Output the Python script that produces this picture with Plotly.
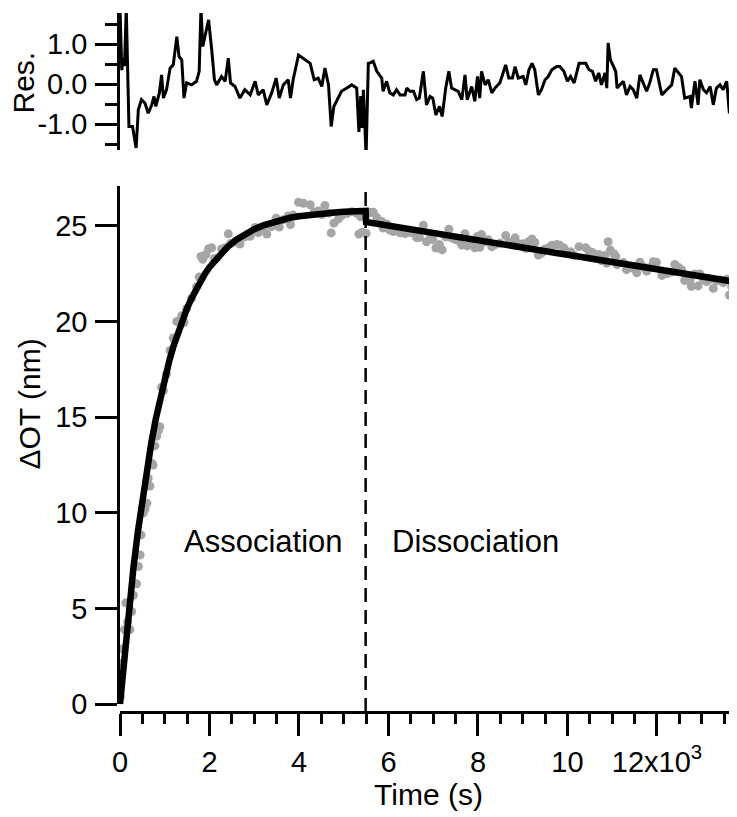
import plotly.graph_objects as go

# ---------------- data (time in units of 10^3 s) ----------------
res_t = [
    0.00, 0.04, 0.07, 0.10, 0.14, 0.20, 0.28, 0.36, 0.41, 0.48, 0.56, 0.63, 0.71, 0.76, 0.80, 0.88, 0.93, 0.97,
    1.04, 1.12, 1.19, 1.27, 1.32, 1.38, 1.43, 1.49, 1.60, 1.71, 1.77, 1.81, 1.85, 1.92, 1.98,
    2.05, 2.11, 2.16, 2.27, 2.35, 2.42, 2.47, 2.57, 2.68, 2.79, 2.91,
    3.02, 3.09, 3.20, 3.28, 3.39, 3.49, 3.56, 3.65, 3.76, 3.81, 3.87, 3.99,
    4.10, 4.25, 4.34, 4.43, 4.51, 4.58, 4.66, 4.72, 4.78, 4.88, 4.95,
    5.07, 5.18, 5.29, 5.34, 5.38, 5.41, 5.44, 5.50, 5.55, 5.59, 5.66, 5.74, 5.85, 5.88, 5.96,
    6.03, 6.11, 6.18, 6.26, 6.37, 6.41, 6.48, 6.56, 6.63, 6.69, 6.78, 6.85, 6.93, 6.99,
    7.06, 7.14, 7.20, 7.28, 7.35, 7.41, 7.49, 7.56, 7.64, 7.71, 7.76, 7.86, 7.93, 7.99,
    8.04, 8.08, 8.16, 8.23, 8.31, 8.38, 8.49, 8.62, 8.69, 8.77, 8.83, 8.90,
    9.01, 9.07, 9.14, 9.21, 9.27, 9.35, 9.42, 9.50, 9.57, 9.65, 9.76, 9.83, 9.92,
    10.00, 10.07, 10.15, 10.26, 10.41, 10.48, 10.56, 10.63, 10.70, 10.76, 10.84, 10.88, 10.91, 10.96,
    11.04, 11.08, 11.11, 11.25, 11.32, 11.40, 11.47, 11.55, 11.62, 11.69, 11.77, 11.84, 11.92, 11.99,
    12.11, 12.22, 12.33, 12.40, 12.48, 12.55, 12.62, 12.74, 12.77, 12.85, 12.92, 12.96,
    13.04, 13.11, 13.19, 13.26, 13.33, 13.41, 13.48, 13.56, 13.62, 13.67, 13.75,
]
res_v = [
    1.90, 0.35, 0.65, 0.45, 1.90, -1.06, -1.06, -1.60, -0.64, -0.39, -0.48, -0.73, -0.52, -0.31, -0.56, -0.22, 0.23, -0.35,
    -0.14, 0.40, 0.48, 1.19, 0.69, 0.61, -0.35, 0.03, -0.02, 0.07, 0.32, 1.90, 0.94, 1.28, 1.61,
    0.86, 0.11, -0.02, 0.19, 0.07, 0.65, 0.03, -0.06, -0.35, -0.14, -0.27,
    0.07, -0.27, -0.14, -0.52, -0.22, 0.15, -0.35, -0.02, 0.11, -0.35, 0.11, 0.73,
    0.65, 0.52, 0.11, 0.15, -0.06, 0.40, -0.02, -1.06, -0.56, -0.35, -0.18,
    -0.10, -0.02, -0.10, -1.20, -0.30, -1.10, -0.14, -1.80, 0.52, 0.53, 0.57, 0.32, 0.15, -0.18, 0.07,
    -0.22, -0.27, -0.14, -0.27, -0.27, -0.10, -0.18, -0.18, -0.39, -0.35, 0.32, -0.52, -0.31, -0.35,
    -0.77, -0.56, -0.81, -0.10, 0.32, -0.10, -0.14, -0.18, -0.39, 0.23, -0.39, -0.06, -0.43, 0.19,
    -0.35, 0.32, -0.02, 0.11, -0.22, -0.10, 0.03, 0.48, 0.15, 0.15, 0.44, 0.15,
    0.19, -0.02, 0.36, 0.52, 0.36, -0.27, -0.14, 0.11, 0.19, 0.36, 0.44, 0.44, 0.32,
    0.07, 0.19, 0.03, 0.52, 0.52, 0.36, 0.32, 0.07, 0.28, -0.02, 0.28, -0.10, 1.03, 0.61,
    0.44, 0.32, -0.10, 0.07, -0.27, -0.06, -0.14, -0.35, 0.23, 0.03, -0.18, 0.03, 0.36, 0.36,
    -0.27, -0.14, -0.02, 0.40, 0.28, 0.19, -0.35, -0.31, -0.60, 0.07, -0.52, 0.11,
    -0.14, -0.22, -0.06, -0.52, -0.10, -0.02, -0.14, 0.07, -0.73, -0.27, -0.10,
]

dot_t = [
    0.01, 0.04, 0.06, 0.10, 0.13, 0.17, 0.22, 0.26, 0.30, 0.37, 0.41, 0.45, 0.47, 0.52, 0.56, 0.60, 0.63, 0.67, 0.71, 0.74, 0.78, 0.82, 0.86, 0.89,
    0.93, 0.97, 1.04, 1.12, 1.19, 1.27, 1.32, 1.38, 1.43, 1.49, 1.60, 1.71, 1.77, 1.81, 1.85, 1.92, 1.98,
    2.05, 2.11, 2.16, 2.27, 2.35, 2.42, 2.47, 2.57, 2.68, 2.79, 2.91,
    3.02, 3.09, 3.20, 3.28, 3.39, 3.49, 3.56, 3.65, 3.76, 3.81, 3.87, 3.99,
    4.10, 4.25, 4.34, 4.43, 4.51, 4.58, 4.66, 4.72, 4.78, 4.88, 4.95,
    5.07, 5.18, 5.29, 5.34, 5.38, 5.41, 5.44, 5.50, 5.55, 5.59, 5.66, 5.74, 5.85, 5.88, 5.96,
    6.03, 6.11, 6.18, 6.26, 6.37, 6.41, 6.48, 6.56, 6.63, 6.69, 6.78, 6.85, 6.93, 6.99,
    7.06, 7.14, 7.20, 7.28, 7.35, 7.41, 7.49, 7.56, 7.64, 7.71, 7.76, 7.86, 7.93, 7.99,
    8.04, 8.08, 8.16, 8.23, 8.31, 8.38, 8.49, 8.62, 8.69, 8.77, 8.83, 8.90,
    9.01, 9.07, 9.14, 9.21, 9.27, 9.35, 9.42, 9.50, 9.57, 9.65, 9.76, 9.83, 9.92,
    10.00, 10.07, 10.15, 10.26, 10.41, 10.48, 10.56, 10.63, 10.70, 10.76, 10.84, 10.88, 10.91, 10.96,
    11.04, 11.08, 11.11, 11.25, 11.32, 11.40, 11.47, 11.55, 11.62, 11.69, 11.77, 11.84, 11.92, 11.99,
    12.11, 12.22, 12.33, 12.40, 12.48, 12.55, 12.62, 12.74, 12.77, 12.85, 12.92, 12.96,
    13.04, 13.11, 13.19, 13.26, 13.33, 13.41, 13.48, 13.56, 13.62, 13.67, 13.75,
]
dot_y = [
    0.40, 2.15, 2.90, 3.90, 5.30, 4.30, 3.90, 4.85, 5.70, 6.30, 7.20, 7.80, 8.85, 10.00, 10.20, 10.50, 11.80, 11.40, 12.60, 12.50, 13.50, 14.00, 14.30, 14.50,
    16.57, 16.39, 17.26, 18.49, 19.14, 20.00, 20.00, 20.30, 19.95, 20.67, 21.20, 21.81, 22.32, 23.40, 23.25, 23.50, 23.80,
    23.85, 23.29, 23.30, 23.79, 23.85, 24.58, 24.07, 24.16, 24.05, 24.42, 24.45,
    24.91, 24.65, 24.88, 24.57, 24.96, 25.40, 24.94, 25.32, 25.51, 25.07, 25.56, 26.23,
    26.18, 26.10, 25.72, 25.78, 25.59, 26.06, 25.66, 24.63, 25.14, 25.36, 25.54,
    25.64, 25.73, 25.66, 24.57, 25.47, 24.67, 25.63, 24.60, 25.70, 25.70, 25.71, 25.43, 25.22, 24.88, 25.10,
    24.78, 24.70, 24.80, 24.64, 24.60, 24.75, 24.65, 24.62, 24.38, 24.40, 25.03, 24.17, 24.35, 24.28,
    23.84, 24.02, 23.74, 24.42, 24.82, 24.37, 24.30, 24.24, 24.00, 24.59, 23.95, 24.24, 23.85, 24.44,
    23.88, 24.54, 24.17, 24.27, 23.91, 24.01, 24.09, 24.49, 24.14, 24.11, 24.37, 24.06,
    24.06, 23.82, 24.18, 24.31, 24.13, 23.47, 23.57, 23.79, 23.84, 23.98, 24.02, 23.99, 23.84,
    23.56, 23.65, 23.46, 23.91, 23.85, 23.67, 23.60, 23.32, 23.50, 23.18, 23.45, 23.05, 24.17, 23.73,
    23.53, 23.40, 22.97, 23.08, 22.71, 22.89, 22.79, 22.55, 23.10, 22.87, 22.63, 22.82, 23.12, 23.09,
    22.41, 22.50, 22.58, 22.98, 22.83, 22.71, 22.14, 22.14, 21.84, 22.48, 21.86, 22.48,
    22.19, 22.09, 22.22, 21.73, 22.12, 22.17, 22.03, 22.21, 21.38, 21.82, 21.96,
]

fit_t = [
    0.0, 0.1, 0.2, 0.3, 0.4, 0.5, 0.6, 0.7, 0.8, 0.9, 1.0, 1.1, 1.2, 1.3, 1.4, 1.5, 1.6, 1.7, 1.8, 1.9, 2.0,
    2.2, 2.4, 2.6, 2.8, 3.0, 3.2, 3.4, 3.6, 3.8, 4.0, 4.2, 4.4, 4.6, 4.8, 5.0, 5.2, 5.4, 5.49,
    5.5, 5.75, 6.0, 6.25, 6.5, 6.75, 7.0, 7.25, 7.5, 7.75, 8.0, 8.25, 8.5, 8.75, 9.0, 9.25, 9.5, 9.75,
    10.0, 10.25, 10.5, 10.75, 11.0, 11.25, 11.5, 11.75, 12.0, 12.25, 12.5, 12.75, 13.0, 13.25, 13.5, 13.75, 13.8,
]
fit_y = [
    0.00, 2.64, 5.00, 7.13, 9.03, 10.75, 12.29, 13.67, 14.91, 16.03, 17.03, 17.93, 18.74, 19.46, 20.11, 20.70, 21.22, 21.70, 22.12, 22.50, 22.84,
    23.42, 23.89, 24.27, 24.58, 24.82, 25.02, 25.18, 25.31, 25.42, 25.50, 25.57, 25.62, 25.67, 25.70, 25.73, 25.75, 25.77, 25.78,
    25.20, 25.10, 25.01, 24.91, 24.82, 24.72, 24.63, 24.53, 24.44, 24.34, 24.25, 24.15, 24.06, 23.96, 23.87, 23.77, 23.68, 23.58,
    23.49, 23.39, 23.30, 23.20, 23.11, 23.01, 22.92, 22.82, 22.73, 22.63, 22.54, 22.44, 22.35, 22.25, 22.16, 22.06, 22.05,
]

split_time = 5.49
x_tick_vals = [0, 2, 4, 6, 8, 10, 12]
x_tick_text = ["0", "2", "4", "6", "8", "10", "12x10<sup>3</sup>"]
y_tick_vals = [0, 5, 10, 15, 20, 25]
res_tick_vals = [-1, 0, 1]
res_tick_text = ["-1.0", "0.0", "1.0"]

assert len(res_t) == len(res_v)
assert len(dot_t) == len(dot_y)
assert len(fit_t) == len(fit_y)

# ---------------- figure ----------------
FONT = "Liberation Sans, Arial, Helvetica, sans-serif"
LW = 2.5
OFF = 8          # page body margin of the browser
FIG_W, FIG_H = 737 - OFF, 817 - OFF
ML, MR, MT, MB = 120 - OFF, 0, 13 - OFF, 105
PAPER_BOTTOM = OFF + FIG_H - MB          # page row of the paper bottom
PAPER_H = FIG_H - MT - MB
PAPER_W = FIG_W - ML - MR

fig = go.Figure()
fig.add_trace(go.Scatter(x=dot_t, y=dot_y, mode="markers", xaxis="x", yaxis="y",
                         marker=dict(size=9, color="rgb(165,165,165)", line=dict(width=0))))
fig.add_trace(go.Scatter(x=fit_t, y=fit_y, mode="lines", xaxis="x", yaxis="y",
                         line=dict(color="black", width=6.5, shape="linear")))
fig.add_trace(go.Scatter(x=res_t, y=res_v, mode="lines", xaxis="x", yaxis="y2",
                         line=dict(color="black", width=3)))


def py(page_y):
    """page pixel row -> paper fraction"""
    return (PAPER_BOTTOM - page_y) / PAPER_H


def pxx(page_x):
    return (page_x - 120) / PAPER_W


bottom_dom = [py(704.3), py(186)]
top_dom = [py(150), 1.0]

fig.update_layout(
    width=FIG_W, height=FIG_H,
    margin=dict(l=ML, r=MR, t=MT, b=MB, pad=0),
    plot_bgcolor="white", paper_bgcolor="white",
    showlegend=False,
    font=dict(family=FONT, size=29, color="black"),
    xaxis=dict(
        range=[0, 13.79], domain=[0, 1], anchor="free", position=0,
        showline=True, linecolor="black", linewidth=LW,
        ticks="outside", ticklen=22, tickwidth=LW, tickcolor="black",
        tickvals=x_tick_vals, ticktext=x_tick_text,
        minor=dict(dtick=0.5, tick0=0, ticks="outside", ticklen=10, tickwidth=LW,
                   tickcolor="black", showgrid=False),
        showgrid=False, zeroline=False, automargin=False,
        ticklabelstandoff=1,
        title=dict(text="Time (s)", font=dict(size=30), standoff=0),
    ),
    yaxis=dict(
        domain=bottom_dom, range=[0, 27.08], anchor="x",
        showline=True, linecolor="black", linewidth=LW,
        ticks="outside", ticklen=22, tickwidth=LW, tickcolor="black",
        tickvals=y_tick_vals,
        showgrid=False, zeroline=False, automargin=False,
        ticklabelstandoff=2,
    ),
    yaxis2=dict(
        domain=top_dom, range=[-1.65, 1.78], anchor="x",
        showline=True, linecolor="black", linewidth=LW,
        ticks="outside", ticklen=22, tickwidth=LW, tickcolor="black",
        tickvals=res_tick_vals, ticktext=res_tick_text,
        minor=dict(dtick=0.5, tick0=0, ticks="outside", ticklen=12, tickwidth=LW,
                   tickcolor="black", showgrid=False),
        showgrid=False, zeroline=False, automargin=False,
        ticklabelstandoff=2,
    ),
)

fig.add_shape(type="line", xref="x", yref="paper", x0=split_time, x1=split_time,
              y0=0, y1=bottom_dom[1],
              line=dict(color="black", width=LW, dash="14px,8px"))

fig.add_annotation(text="Association", x=3.21, y=8.5, xref="x", yref="y",
                   showarrow=False, font=dict(size=31), xanchor="center", yanchor="middle")
fig.add_annotation(text="Dissociation", x=7.94, y=8.5, xref="x", yref="y",
                   showarrow=False, font=dict(size=31), xanchor="center", yanchor="middle")
fig.add_annotation(text="ΔOT (nm)", x=pxx(29), y=py(404.5), xref="paper", yref="paper",
                   textangle=-90, showarrow=False, font=dict(size=30),
                   xanchor="center", yanchor="middle")
fig.add_annotation(text="Res.", x=pxx(23), y=py(82.5), xref="paper", yref="paper",
                   textangle=-90, showarrow=False, font=dict(size=30),
                   xanchor="center", yanchor="middle")

fig.write_html("out.html")
